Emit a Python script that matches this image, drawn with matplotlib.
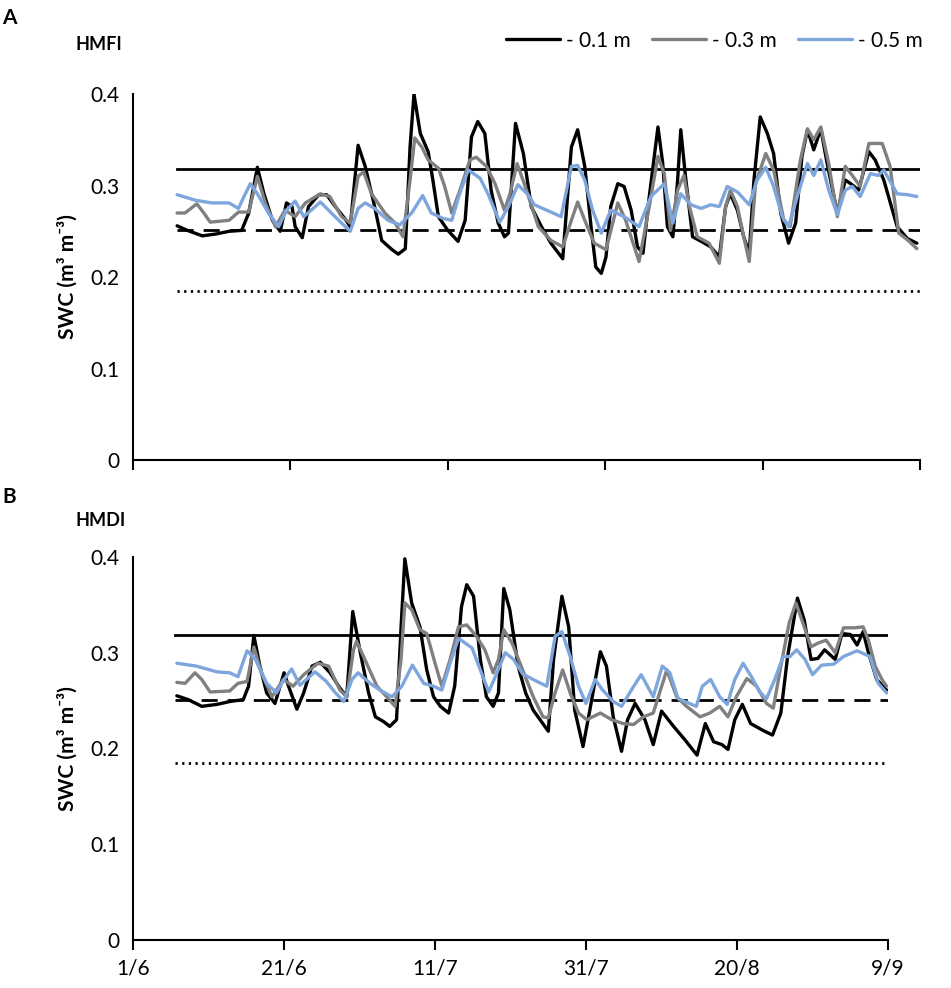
import matplotlib
matplotlib.use("Agg")
import matplotlib.pyplot as plt

plt.rcParams['font.family'] = ['Lato', 'DejaVu Sans']

# x = days after 1 June
tick_days = [0, 20, 40, 60, 80, 100]
tick_labels = ['1/6', '21/6', '11/7', '31/7', '20/8', '9/9']
depth_labels = ['- 0.1 m', '- 0.3 m', '- 0.5 m']

# thresholds (solid, dashed, dotted)
ref_values = [0.318, 0.251, 0.185]
ref_start = 5.6
ref_end = 100

# ---- panel A (HMFI) ----
a_days_01 = [5.6, 6.9, 8.8, 10.5, 12.2, 13.8, 14.7, 15.8, 16.6, 17.7, 18.7, 19.5, 20.2, 20.6, 21.5,
             22.3, 23.6, 24.6, 25.7, 26.9, 27.6, 28.6, 29.5, 30.7, 31.6, 32.9, 33.7, 34.6, 35.2, 35.7,
             36.5, 37.5, 38.1, 38.8, 40.0, 41.3, 42.2, 43.0, 43.8, 44.7, 45.5, 46.4, 47.2, 47.7, 48.6,
             49.6, 50.6, 51.9, 53.1, 54.6, 55.7, 56.5, 57.4, 58.2, 58.8, 59.5, 60.1, 60.7, 61.6, 62.4,
             63.3, 64.1, 64.8, 65.6, 66.7, 67.3, 67.9, 68.6, 69.2, 69.6, 70.2, 71.1, 72.2, 73.4, 74.5,
             75.3, 75.9, 76.8, 77.6, 78.3, 78.9, 79.7, 80.6, 81.4, 82.3, 83.3, 84.2, 85.0, 85.7, 86.5,
             87.4, 88.2, 89.5, 90.5, 91.2, 92.2, 93.5, 94.3, 95.4, 97.1, 98.4, 99.6]
a_swc_01 = [0.256, 0.251, 0.245, 0.247, 0.250, 0.251, 0.270, 0.320, 0.292, 0.262, 0.250, 0.281, 0.277, 0.255, 0.243,
            0.277, 0.290, 0.290, 0.277, 0.264, 0.255, 0.344, 0.321, 0.277, 0.240, 0.230, 0.225, 0.231, 0.342, 0.400,
            0.357, 0.337, 0.306, 0.266, 0.251, 0.239, 0.262, 0.353, 0.370, 0.357, 0.295, 0.259, 0.244, 0.248, 0.368,
            0.335, 0.277, 0.255, 0.237, 0.220, 0.342, 0.361, 0.321, 0.255, 0.211, 0.204, 0.222, 0.277, 0.302, 0.299,
            0.273, 0.233, 0.226, 0.288, 0.364, 0.325, 0.255, 0.244, 0.306, 0.361, 0.310, 0.244, 0.239, 0.233, 0.222,
            0.277, 0.291, 0.273, 0.244, 0.226, 0.306, 0.375, 0.357, 0.335, 0.270, 0.237, 0.259, 0.332, 0.361, 0.339,
            0.362, 0.324, 0.270, 0.306, 0.302, 0.295, 0.337, 0.328, 0.306, 0.255, 0.242, 0.237]

a_days_03 = [5.6, 6.6, 8.1, 9.0, 9.8, 12.2, 13.4, 14.7, 15.8, 16.8, 18.1, 19.3, 20.6, 21.9, 23.8,
             25.0, 26.5, 27.6, 28.6, 29.3, 30.3, 32.0, 33.3, 34.3, 35.2, 35.8, 36.7, 37.5, 38.8, 39.6,
             40.5, 41.7, 42.8, 43.6, 44.9, 46.0, 47.2, 47.9, 48.8, 49.8, 51.5, 53.1, 54.6, 55.7, 56.5,
             57.4, 58.6, 60.1, 61.6, 62.6, 64.3, 65.6, 66.7, 67.5, 68.3, 69.2, 70.0, 70.7, 71.7, 73.2,
             74.5, 75.3, 75.9, 76.8, 77.6, 78.3, 79.1, 80.4, 81.4, 82.7, 83.5, 84.8, 85.7, 86.5, 87.4,
             88.4, 89.5, 90.5, 91.4, 92.4, 93.5, 95.2, 96.2, 97.3, 98.5, 99.6]
a_swc_03 = [0.270, 0.270, 0.280, 0.270, 0.260, 0.262, 0.271, 0.271, 0.310, 0.281, 0.255, 0.273, 0.266, 0.281, 0.291,
            0.288, 0.266, 0.259, 0.310, 0.315, 0.291, 0.270, 0.259, 0.244, 0.306, 0.352, 0.342, 0.328, 0.319, 0.299,
            0.270, 0.299, 0.328, 0.331, 0.321, 0.302, 0.273, 0.291, 0.324, 0.300, 0.255, 0.240, 0.233, 0.262, 0.282,
            0.262, 0.237, 0.230, 0.281, 0.262, 0.217, 0.277, 0.332, 0.313, 0.251, 0.295, 0.311, 0.277, 0.244, 0.237,
            0.215, 0.277, 0.295, 0.277, 0.244, 0.217, 0.302, 0.335, 0.317, 0.262, 0.255, 0.328, 0.362, 0.350, 0.364,
            0.324, 0.266, 0.321, 0.311, 0.299, 0.346, 0.346, 0.321, 0.248, 0.240, 0.231]

a_days_05 = [5.6, 7.9, 10.0, 12.2, 13.4, 14.1, 14.9, 15.8, 17.2, 18.5, 19.5, 20.6, 21.7, 23.8, 25.2,
             26.5, 27.6, 28.6, 29.5, 30.7, 32.4, 33.9, 35.4, 36.8, 37.9, 39.4, 40.5, 41.5, 42.6, 44.1,
             45.1, 46.6, 47.7, 48.9, 50.2, 51.0, 53.1, 54.4, 55.7, 56.5, 57.4, 58.4, 59.5, 60.7, 62.4,
             64.3, 65.8, 67.5, 68.6, 69.6, 70.9, 72.2, 73.4, 74.5, 75.5, 76.8, 78.3, 79.3, 80.4, 81.4,
             82.5, 83.3, 84.4, 85.7, 86.5, 87.4, 88.4, 89.5, 90.5, 91.4, 92.4, 93.7, 94.7, 95.4, 97.1,
             98.4, 99.6]
a_swc_05 = [0.290, 0.284, 0.281, 0.281, 0.275, 0.288, 0.302, 0.291, 0.270, 0.255, 0.273, 0.283, 0.266, 0.282, 0.270,
            0.259, 0.250, 0.275, 0.281, 0.275, 0.262, 0.257, 0.270, 0.289, 0.270, 0.264, 0.262, 0.291, 0.317, 0.308,
            0.291, 0.260, 0.277, 0.301, 0.290, 0.279, 0.271, 0.266, 0.321, 0.322, 0.306, 0.273, 0.248, 0.273, 0.266,
            0.255, 0.288, 0.302, 0.259, 0.291, 0.279, 0.275, 0.279, 0.277, 0.299, 0.293, 0.279, 0.306, 0.320, 0.299,
            0.266, 0.255, 0.288, 0.324, 0.311, 0.328, 0.295, 0.268, 0.295, 0.299, 0.288, 0.313, 0.311, 0.317, 0.291,
            0.290, 0.288]

# ---- panel B (HMDI) ----
b_days_01 = [5.8, 7.3, 9.1, 11.1, 12.8, 14.6, 15.3, 16.0, 16.8, 17.7, 18.8, 20.0, 20.6, 21.7, 22.6,
             23.7, 24.8, 26.1, 27.4, 28.3, 29.1, 30.1, 31.2, 32.1, 33.2, 34.0, 34.9, 35.5, 36.0, 36.9,
             38.0, 38.9, 39.8, 40.7, 41.8, 42.6, 43.5, 44.2, 45.1, 46.0, 46.8, 47.7, 48.4, 49.1, 49.9,
             51.0, 52.0, 53.0, 55.0, 55.7, 56.8, 57.7, 58.5, 59.6, 60.5, 61.9, 62.7, 63.6, 64.7, 65.5,
             66.5, 67.8, 68.9, 70.0, 71.6, 73.1, 74.7, 75.8, 76.9, 78.0, 78.8, 79.7, 80.7, 81.8, 83.4,
             84.7, 85.8, 86.7, 88.0, 88.9, 89.8, 90.7, 91.6, 93.0, 93.9, 95.0, 95.9, 96.7, 97.4, 98.5,
             99.8]
b_swc_01 = [0.255, 0.251, 0.244, 0.246, 0.249, 0.251, 0.265, 0.318, 0.286, 0.258, 0.247, 0.279, 0.265, 0.241, 0.258,
            0.286, 0.290, 0.279, 0.263, 0.254, 0.343, 0.300, 0.258, 0.233, 0.228, 0.223, 0.230, 0.327, 0.398, 0.352,
            0.327, 0.282, 0.254, 0.244, 0.237, 0.265, 0.348, 0.371, 0.359, 0.293, 0.254, 0.244, 0.258, 0.367, 0.345,
            0.286, 0.258, 0.240, 0.218, 0.293, 0.359, 0.327, 0.240, 0.202, 0.240, 0.301, 0.286, 0.233, 0.197, 0.230,
            0.247, 0.230, 0.204, 0.239, 0.223, 0.209, 0.193, 0.226, 0.207, 0.204, 0.199, 0.230, 0.246, 0.226, 0.219,
            0.214, 0.237, 0.296, 0.357, 0.334, 0.293, 0.294, 0.303, 0.293, 0.320, 0.319, 0.308, 0.322, 0.300, 0.272,
            0.261]

b_days_03 = [5.8, 6.9, 8.2, 9.1, 10.2, 12.8, 13.9, 15.1, 16.0, 17.0, 18.4, 19.9, 21.2, 22.6, 24.5,
             25.9, 27.4, 28.3, 29.2, 29.6, 30.7, 32.3, 33.6, 34.7, 35.5, 36.0, 36.9, 38.0, 38.9, 40.0,
             40.9, 42.0, 43.1, 44.2, 45.5, 46.6, 47.7, 48.4, 49.1, 50.2, 51.4, 53.0, 54.3, 55.0, 55.9,
             56.9, 57.9, 59.0, 60.1, 61.9, 63.4, 64.9, 66.3, 67.6, 68.9, 70.7, 72.0, 73.3, 75.1, 76.4,
             77.7, 78.8, 79.9, 81.3, 82.6, 83.9, 84.8, 85.8, 86.9, 87.8, 88.9, 89.8, 90.7, 91.8, 93.0,
             94.1, 95.6, 96.7, 97.4, 98.3, 99.2, 99.8]
b_swc_03 = [0.269, 0.268, 0.279, 0.272, 0.259, 0.260, 0.268, 0.270, 0.306, 0.279, 0.254, 0.272, 0.265, 0.277, 0.289,
            0.286, 0.261, 0.254, 0.303, 0.312, 0.293, 0.265, 0.254, 0.244, 0.293, 0.352, 0.345, 0.324, 0.320, 0.289,
            0.265, 0.293, 0.327, 0.329, 0.317, 0.303, 0.279, 0.293, 0.324, 0.310, 0.286, 0.254, 0.233, 0.232, 0.258,
            0.282, 0.258, 0.237, 0.230, 0.237, 0.230, 0.226, 0.225, 0.233, 0.237, 0.282, 0.254, 0.244, 0.233, 0.237,
            0.244, 0.233, 0.254, 0.273, 0.265, 0.247, 0.242, 0.286, 0.331, 0.352, 0.327, 0.306, 0.310, 0.313, 0.300,
            0.326, 0.326, 0.327, 0.313, 0.286, 0.272, 0.265]

b_days_05 = [5.8, 8.4, 11.1, 12.8, 13.9, 15.1, 16.2, 17.7, 19.0, 20.0, 21.0, 22.1, 24.1, 25.6, 26.7,
             27.9, 29.0, 29.8, 31.4, 32.7, 34.3, 35.6, 37.0, 38.5, 39.8, 40.9, 42.0, 43.1, 44.9, 46.0,
             47.1, 48.2, 49.3, 50.4, 51.6, 53.0, 54.8, 55.9, 56.8, 57.9, 59.0, 60.0, 61.2, 62.2, 63.6,
             64.7, 66.0, 67.3, 68.9, 70.1, 71.1, 72.2, 74.6, 75.4, 76.5, 77.7, 78.7, 79.7, 80.8, 81.9,
             83.0, 83.9, 85.0, 86.1, 87.0, 87.9, 89.0, 90.0, 91.2, 92.8, 94.1, 95.9, 97.6, 98.7, 99.8]
b_swc_05 = [0.289, 0.286, 0.280, 0.279, 0.275, 0.302, 0.293, 0.268, 0.258, 0.272, 0.283, 0.266, 0.280, 0.270, 0.259,
            0.249, 0.272, 0.279, 0.268, 0.261, 0.254, 0.265, 0.287, 0.268, 0.265, 0.261, 0.289, 0.315, 0.305, 0.282,
            0.259, 0.279, 0.300, 0.293, 0.278, 0.272, 0.265, 0.317, 0.322, 0.296, 0.265, 0.247, 0.272, 0.261, 0.249,
            0.244, 0.261, 0.277, 0.254, 0.286, 0.279, 0.252, 0.244, 0.265, 0.272, 0.254, 0.246, 0.272, 0.289, 0.275,
            0.259, 0.252, 0.272, 0.296, 0.296, 0.303, 0.293, 0.277, 0.287, 0.288, 0.296, 0.302, 0.296, 0.268, 0.258]

colors = ['#000000', '#808080', '#7ea6dc']
ref_styles = ['-', (0, (5.8, 3.6)), (0, (0.8, 1.6))]

fig = plt.figure(figsize=(9.51, 9.88), dpi=100)
ax_a = fig.add_axes([0.1399, 0.5344, 0.8275, 0.3704])
ax_b = fig.add_axes([0.1399, 0.0486, 0.7939, 0.3877])

panels = [
    (ax_a, [(a_days_01, a_swc_01), (a_days_03, a_swc_03), (a_days_05, a_swc_05)]),
    (ax_b, [(b_days_01, b_swc_01), (b_days_03, b_swc_03), (b_days_05, b_swc_05)]),
]

for ax, series in panels:
    for val, ls in zip(ref_values, ref_styles):
        ax.plot([ref_start, ref_end], [val, val], color='black', lw=2.0, linestyle=ls, zorder=1)
    for (d, v), c, lab in zip(series, colors, depth_labels):
        ax.plot(d, v, color=c, lw=2.4, label=lab, zorder=3,
                solid_joinstyle='round', solid_capstyle='round')
    ax.set_xlim(0, 100)
    ax.set_ylim(0, 0.4)
    ax.set_xticks(tick_days)
    ax.set_yticks([0, 0.1, 0.2, 0.3, 0.4])
    ax.set_yticklabels(['0', '0.1', '0.2', '0.3', '0.4'])
    ax.spines['top'].set_visible(False)
    ax.spines['right'].set_visible(False)
    ax.spines['left'].set_linewidth(1.5)
    ax.spines['bottom'].set_linewidth(1.5)
    ax.tick_params(axis='x', direction='out', length=7, width=1.5, labelsize=15, pad=6)
    ax.tick_params(axis='y', length=0, pad=10, labelsize=15)
    ax.set_ylabel('SWC (m³ m⁻³)', fontsize=15, fontweight='bold', labelpad=9)

ax_a.set_xticklabels([])
ax_b.set_xticklabels(tick_labels)

fig.text(0.002, 0.982, 'A', fontsize=15, fontweight='bold', va='center')
fig.text(0.002, 0.497, 'B', fontsize=15, fontweight='bold', va='center')
fig.text(0.079, 0.955, 'HMFI', fontsize=13, fontweight='bold', va='center')
fig.text(0.079, 0.473, 'HMDI', fontsize=13, fontweight='bold', va='center')

handles, labels = ax_a.get_legend_handles_labels()
fig.legend(handles, labels, loc='center right', bbox_to_anchor=(0.99, 0.959), ncol=3,
           frameon=False, fontsize=15, handlelength=2.6, handletextpad=0.3, columnspacing=1.0)

fig.savefig('out.png', dpi=100)
